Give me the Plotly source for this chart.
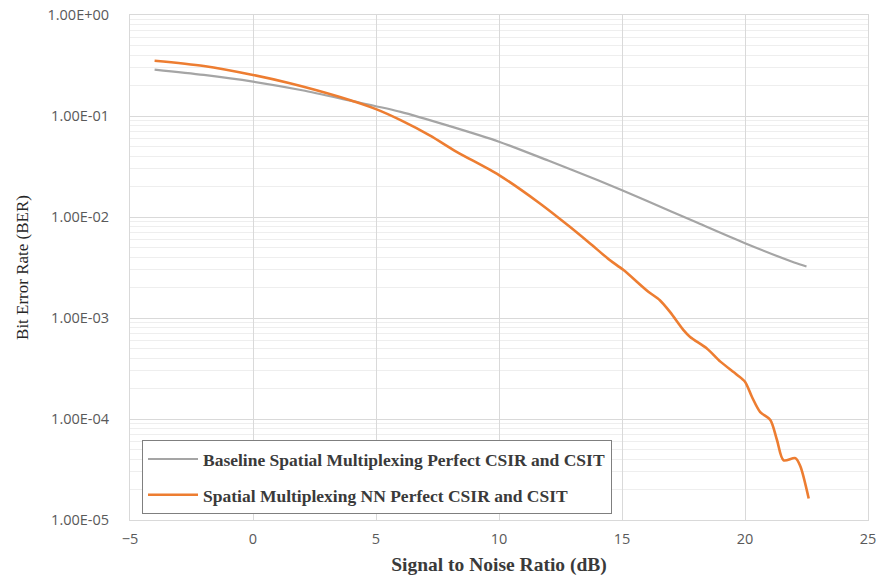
import plotly.graph_objects as go

# Data
snr_base = [-4, -2, 0, 2, 4, 6, 8, 10, 12, 14, 16, 18, 20, 22, 22.5]
ber_base = [0.288, 0.255, 0.219, 0.180, 0.141, 0.110, 0.0794, 0.0557, 0.0362,
            0.0232, 0.0145, 0.0089, 0.0055, 0.00355, 0.00324]

snr_nn = [-4, -2, 0, 1.5, 3.5, 5.0, 6.0, 7.2, 8.26, 10.0, 11.65, 12.88, 13.69,
          14.5, 15.05, 16.07, 16.54, 16.95, 17.5, 17.77, 18.45, 19.0, 19.67, 20.0,
          20.28, 20.62, 21.03, 21.3, 21.57, 22.05, 22.25, 22.59]
ber_nn = [0.353, 0.313, 0.255, 0.211, 0.155, 0.117, 0.091, 0.064, 0.0445, 0.026,
          0.0137, 0.0080, 0.0055, 0.00375, 0.0030, 0.00182, 0.0015, 0.00115,
          0.00076, 0.00065, 0.00050, 0.00037, 0.000275, 0.000234, 0.000166,
          0.000117, 0.000098, 0.000062, 0.000039, 0.000041, 0.000034, 0.0000163]

y_tickvals = [1e-5, 1e-4, 1e-3, 1e-2, 1e-1, 1e0]
y_ticktext = ["1.00E-05", "1.00E-04", "1.00E-03", "1.00E-02", "1.00E-01", "1.00E+00"]
x_tickvals = [-5, 0, 5, 10, 15, 20, 25]
y_minor_vals = [m * 10.0 ** e for e in range(-5, 0) for m in range(2, 10)]

fig = go.Figure()
fig.add_trace(go.Scatter(
    x=snr_base, y=ber_base, mode="lines",
    name="Baseline Spatial Multiplexing Perfect CSIR and CSIT",
    line=dict(color="#A5A5A5", width=2.2, shape="spline", smoothing=0.8),
    legendgroup="a"))
fig.add_trace(go.Scatter(
    x=snr_nn, y=ber_nn, mode="lines",
    name="Spatial Multiplexing NN Perfect CSIR and CSIT",
    line=dict(color="#ED7D31", width=2.6, shape="spline", smoothing=0.8),
    legendgroup="b"))

fig.update_layout(
    width=882, height=576,
    margin=dict(l=130, r=14, t=15, b=56),
    paper_bgcolor="white", plot_bgcolor="white",
    showlegend=True,
    legend=dict(
        x=0.016, y=0.012, xanchor="left", yanchor="bottom",
        bgcolor="white", bordercolor="#7f7f7f", borderwidth=1.2,
        font=dict(family="Liberation Serif", size=17.5, color="#3a3a3a",
                  weight="bold"),
        traceorder="grouped", tracegroupgap=10,
        itemwidth=50),
    xaxis=dict(
        range=[-5, 25], tickvals=x_tickvals, automargin=False,
        showgrid=True, gridcolor="#d9d9d9", gridwidth=1.2,
        zeroline=False, showline=True, linecolor="#d9d9d9", mirror=True,
        ticks="", ticklabelstandoff=6,
        tickfont=dict(family="Open Sans", size=14.5, color="#595959"),
        title=dict(text="Signal to Noise Ratio (dB)", standoff=10,
                   font=dict(family="Liberation Serif", size=19.5, color="#3a3a3a",
                             weight="bold"))),
    yaxis=dict(
        type="log", range=[-5, 0], tickvals=y_tickvals, ticktext=y_ticktext,
        automargin=False,
        showgrid=True, gridcolor="#d9d9d9", gridwidth=1.2,
        minor=dict(tickmode="array", tickvals=y_minor_vals, showgrid=True,
                   gridcolor="#eeeeee", gridwidth=1, ticks=""),
        zeroline=False, showline=True, linecolor="#d9d9d9", mirror=True,
        ticks="", ticklabelstandoff=17,
        tickfont=dict(family="Open Sans", size=14.5, color="#595959"),
        title=dict(text="Bit Error Rate (BER)", standoff=14,
                   font=dict(family="Liberation Serif", size=17, color="#262626"))),
)

fig.write_html("out.html")
